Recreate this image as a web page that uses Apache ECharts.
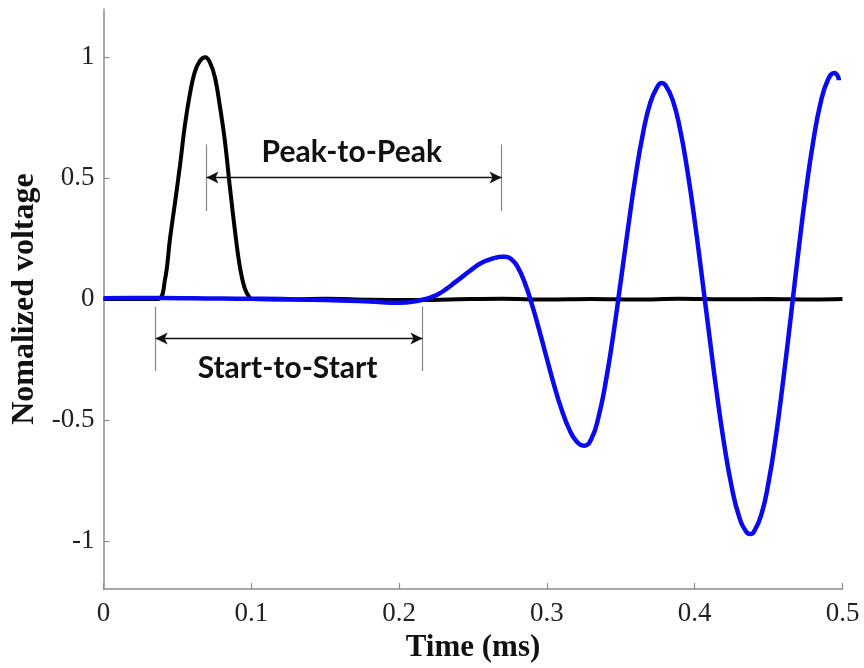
<!DOCTYPE html>
<html>
<head>
<meta charset="utf-8">
<script src="https://cdn.jsdelivr.net/npm/echarts@6/dist/echarts.min.js"></script>
<style>html,body{margin:0;padding:0;background:#fff;}#c{width:864px;height:668px;}</style>
</head>
<body>
<div id="c"></div>
<script>
// ---- data ----
const xTicks = [0, 0.1, 0.2, 0.3, 0.4, 0.5];
const yTicks = [-1, -0.5, 0, 0.5, 1];

const blackT = [0, 0.02, 0.0369, 0.0416, 0.045, 0.0484, 0.0517, 0.0551, 0.0585, 0.0618, 0.0652, 0.0689, 0.0719, 0.0753, 0.0787, 0.082, 0.0854, 0.0888, 0.0921, 0.0955, 0.0989, 0.101, 0.12, 0.15, 0.18, 0.21, 0.24, 0.27, 0.30, 0.33, 0.36, 0.39, 0.42, 0.45, 0.48, 0.5];
const blackV = [0, 0, 0, 0.08, 0.25, 0.4, 0.55, 0.72, 0.85, 0.94, 0.985, 1.0, 0.98, 0.92, 0.8, 0.66, 0.47, 0.29, 0.14, 0.045, 0.006, 0, -0.002, 0.001, -0.003, -0.004, -0.001, 0.001, -0.002, 0.0, -0.002, 0.001, -0.001, 0.0, -0.002, 0.0];

const blueT = [0, 0.02, 0.04, 0.06, 0.08, 0.1, 0.12, 0.14, 0.16, 0.18, 0.195, 0.205, 0.212, 0.218, 0.222, 0.227, 0.232, 0.238, 0.244, 0.249, 0.255, 0.261, 0.266, 0.269, 0.272, 0.276, 0.28, 0.285, 0.29, 0.295, 0.3, 0.305, 0.31, 0.315, 0.32, 0.3253, 0.33, 0.335, 0.34, 0.345, 0.35, 0.355, 0.36, 0.365, 0.37, 0.375, 0.3776, 0.38, 0.385, 0.39, 0.395, 0.4, 0.405, 0.41, 0.415, 0.42, 0.425, 0.43, 0.435, 0.4376, 0.44, 0.445, 0.45, 0.455, 0.46, 0.465, 0.47, 0.475, 0.48, 0.485, 0.49, 0.4945, 0.497, 0.4975];
const blueV = [0.003, 0.004, 0.004, 0.003, 0.002, 0.001, 0.0, -0.003, -0.006, -0.01, -0.015, -0.014, -0.008, 0.0, 0.008, 0.022, 0.042, 0.07, 0.098, 0.122, 0.147, 0.163, 0.172, 0.175, 0.175, 0.165, 0.135, 0.068, -0.025, -0.133, -0.247, -0.359, -0.458, -0.537, -0.588, -0.607, -0.58, -0.486, -0.336, -0.144, 0.075, 0.298, 0.509, 0.685, 0.813, 0.881, 0.894, 0.887, 0.825, 0.705, 0.533, 0.323, 0.087, -0.156, -0.392, -0.603, -0.776, -0.899, -0.964, -0.972, -0.963, -0.894, -0.757, -0.565, -0.33, -0.074, 0.188, 0.434, 0.645, 0.807, 0.905, 0.935, 0.92, 0.905];

// annotation anchors (data units)
const peakMarks = [0.0697, 0.2693];   // vertical guide lines for Peak-to-Peak
const peakSpan = [0.364, 0.64];
const peakArrowY = 0.503;
const startMarks = [0.0353, 0.2158];  // vertical guide lines for Start-to-Start
const startSpan = [-0.298, -0.031];
const startArrowY = -0.163;
const annoLabels = ['Peak-to-Peak', 'Start-to-Start'];
const labelPos = [[0.168, 0.607], [0.1245, -0.286]];

const blackData = blackT.map((t, i) => [t, blackV[i]]);
const blueData = blueT.map((t, i) => [t, blueV[i]]);

const axisGray = '#8c8c8c';
const serif = '"Liberation Serif", "Times New Roman", serif';
const annoFont = 'Lato, "Open Sans", sans-serif';

function vline(x, span) {
  return [{ coord: [x, span[0]], symbol: 'none' }, { coord: [x, span[1]], symbol: 'none' }];
}
function harrow(a, b, y) {
  return [{ coord: [a, y], symbol: 'arrow' }, { coord: [b, y], symbol: 'arrow' }];
}

const chart = echarts.init(document.getElementById('c'), null, { renderer: 'canvas' });
chart.setOption({
  animation: false,
  backgroundColor: '#fff',
  grid: { left: 103.5, right: 21.5, top: 9, bottom: 75, containLabel: false },
  xAxis: {
    type: 'value', min: 0, max: 0.5, interval: 0.1,
    name: 'Time (ms)', nameLocation: 'middle', nameGap: 38,
    nameTextStyle: { fontFamily: serif, fontWeight: 'bold', fontSize: 31, color: '#111' },
    axisLine: { show: true, onZero: false, lineStyle: { color: axisGray, width: 1.5 } },
    axisTick: { show: true, inside: true, length: 6, lineStyle: { color: axisGray, width: 1.2 } },
    axisLabel: { fontFamily: serif, fontSize: 27, color: '#222', margin: 11, showMaxLabel: true, showMinLabel: true },
    splitLine: { show: false }
  },
  yAxis: {
    type: 'value', min: -1.2, max: 1.2,
    name: 'Nomalized voltage', nameLocation: 'middle', nameGap: 59, nameRotate: 90,
    nameTextStyle: { fontFamily: serif, fontWeight: 'bold', fontSize: 32, color: '#111' },
    axisLine: { show: true, onZero: false, lineStyle: { color: axisGray, width: 1.5 } },
    axisTick: { show: true, inside: true, length: 6, customValues: yTicks, lineStyle: { color: axisGray, width: 1.2 } },
    axisLabel: { fontFamily: serif, fontSize: 27, color: '#222', margin: 9, customValues: yTicks, formatter: v => String(v) },
    splitLine: { show: false }
  },
  series: [
    {
      type: 'line', name: 'black', data: blackData, showSymbol: false, smooth: 0.4,
      lineStyle: { color: '#000', width: 4 }, z: 2
    },
    {
      type: 'line', name: 'blue', data: blueData, showSymbol: false, smooth: 0.5,
      lineStyle: { color: '#0a0af0', width: 4.5 }, z: 3,
      markLine: {
        silent: true, symbolSize: [9, 12], animation: false,
        lineStyle: { color: '#333', width: 1.2, type: 'solid' },
        label: { show: false },
        data: [
          vline(peakMarks[0], peakSpan), vline(peakMarks[1], peakSpan),
          harrow(peakMarks[0], peakMarks[1], peakArrowY),
          vline(startMarks[0], startSpan), vline(startMarks[1], startSpan),
          harrow(startMarks[0], startMarks[1], startArrowY)
        ].map(d => d.map(p => Object.assign(p, { lineStyle: { color: p.symbol === 'arrow' ? '#111' : '#888', width: p.symbol === 'arrow' ? 1.3 : 1.2 } })))
      },
      markPoint: {
        silent: true, symbol: 'circle', symbolSize: 1, itemStyle: { color: 'rgba(0,0,0,0)' },
        label: { show: true, position: 'inside', fontFamily: annoFont, fontWeight: 'bold', fontSize: 30, color: '#111' },
        data: annoLabels.map((s, i) => ({ coord: labelPos[i], label: { formatter: s } }))
      }
    }
  ]
});
</script>
</body>
</html>
